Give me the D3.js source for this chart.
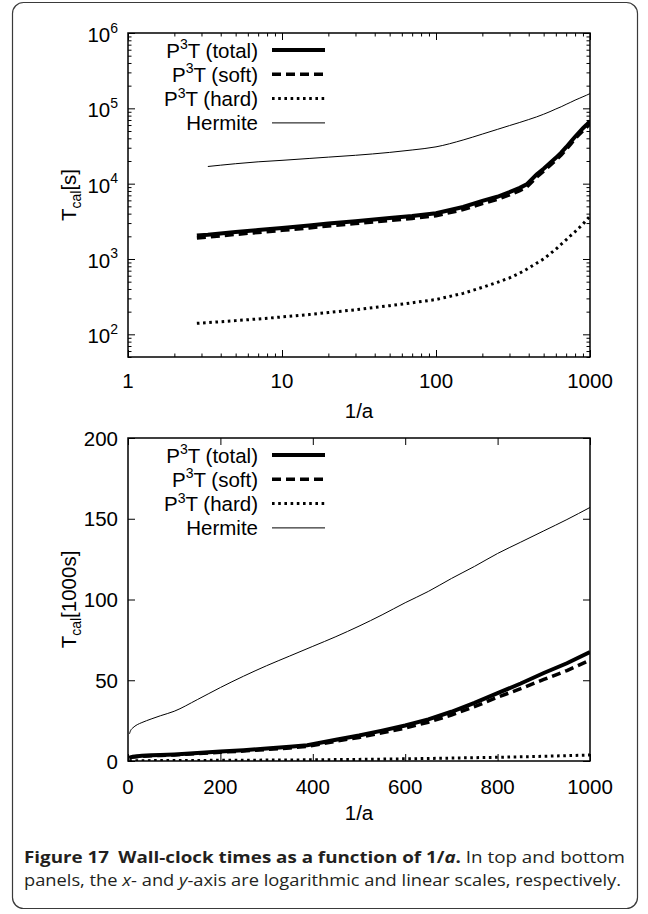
<!DOCTYPE html>
<html>
<head>
<meta charset="utf-8">
<script src="https://cdn.jsdelivr.net/npm/d3@7"></script>
<style>
  body { margin: 0; background: #fff; }
  svg { display: block; }
</style>
</head>
<body>
<script>
// Values: 1/a against wall-clock time in seconds
var invA = [2.8, 3.3, 5, 7, 10, 15, 20, 30, 50, 70, 100, 150, 200, 250, 300, 350, 388,
            450, 500, 550, 600, 650, 700, 750, 800, 850, 900, 950, 1000];
var totalTime = [2050, 2100, 2280, 2420, 2580, 2780, 2960, 3180, 3500, 3720, 4050, 4900, 5900,
                 6700, 7700, 8800, 9800, 13200, 15800, 18800, 22000, 25800, 30500, 36000,
                 42000, 48000, 54500, 60500, 67500];
var softTime = [1900, 1950, 2120, 2250, 2400, 2580, 2750, 2960, 3250, 3460, 3750, 4520, 5450,
                6180, 7100, 8100, 9000, 12200, 14600, 17400, 20400, 24000, 28500, 33600,
                39500, 44800, 50500, 56000, 62500];
var hardTime = [140, 143, 152, 160, 170, 183, 195, 212, 240, 262, 290, 350, 420, 490, 560, 650,
                730, 880, 1000, 1170, 1350, 1570, 1800, 2050, 2300, 2600, 2900, 3300, 3700];

var hermiteInvA = [3.3, 4, 5, 7, 10, 15, 20, 30, 50, 70, 100, 150, 200, 250, 300, 350, 400,
                   450, 500, 550, 600, 650, 700, 750, 800, 850, 900, 950, 1000];
var hermiteTime = [16900, 17600, 18400, 19500, 20400, 21600, 22500, 23800, 26000, 28000, 30800,
                   38000, 45500, 52500, 59000, 65000, 71000, 77000, 83500, 90500, 98000, 105000,
                   113000, 120500, 128500, 135500, 142500, 149500, 157000];

var legendLabels = ["P^3T (total)", "P^3T (soft)", "P^3T (hard)", "Hermite"];

// tick values
var logXTicks = [1, 10, 100, 1000];
var logYTicks = [1e2, 1e3, 1e4, 1e5, 1e6];
var linXTicks = [0, 200, 400, 600, 800, 1000];
var linYTicks = [0, 50, 100, 150, 200];

// svg area
var svgWidth = 648;
var svgHeight = 914;
var plotLeft = 128;
var plotWidth = 462;
var fontFam = "'Liberation Sans', Arial, Helvetica, sans-serif";
var fontSize = 20.5;
var supSize = 14;

var svg = d3.select("body")
  .append("svg")
  .attr("width", svgWidth)
  .attr("height", svgHeight);

// the card the figure sits in
svg.append("rect")
  .attr("x", 12.5).attr("y", 2.5)
  .attr("width", 625).attr("height", 906)
  .attr("rx", 11).attr("ry", 11)
  .attr("fill", "none")
  .attr("stroke", "#3a3a3a")
  .attr("stroke-width", 1.2);

// line style of each series (same order as legendLabels)
var styles = [
  { width: 4, dash: null, curve: d3.curveLinear },
  { width: 3.5, dash: "9,5", curve: d3.curveLinear },
  { width: 3, dash: "2.6,3.6", curve: d3.curveLinear },
  { width: 1, dash: null, curve: d3.curveMonotoneX }
];

var series = [
  { x: invA, y: totalTime },
  { x: invA, y: softTime },
  { x: invA, y: hardTime },
  { x: hermiteInvA, y: hermiteTime }
];

// draw ticks pointing into the plot on all four sides
function inwardTicks(g, xScale, yScale, xVals, yVals, len, h) {
  var axes = [
    g.append("g").attr("transform", `translate(0,${h})`)
      .call(d3.axisBottom(xScale).tickValues(xVals).tickSize(-len).tickFormat("")),
    g.append("g")
      .call(d3.axisTop(xScale).tickValues(xVals).tickSize(-len).tickFormat("")),
    g.append("g")
      .call(d3.axisLeft(yScale).tickValues(yVals).tickSize(-len).tickFormat("")),
    g.append("g").attr("transform", `translate(${plotWidth},0)`)
      .call(d3.axisRight(yScale).tickValues(yVals).tickSize(-len).tickFormat(""))
  ];
  axes.forEach(function(a) {
    a.select(".domain").remove();
    a.selectAll("line").attr("stroke", "#000").attr("stroke-width", 1);
  });
}

function drawPanel(top, h, xScale, yScale, yDiv, clipId) {
  var g = svg.append("g").attr("transform", `translate(${plotLeft},${top})`);

  g.append("clipPath").attr("id", clipId)
    .append("rect").attr("width", plotWidth).attr("height", h);

  var curves = g.append("g").attr("clip-path", `url(#${clipId})`);
  // draw hermite first, then hard, soft, total on top
  [3, 2, 1, 0].forEach(function(i) {
    var line = d3.line()
      .curve(styles[i].curve)
      .x(d => xScale(d[0]))
      .y(d => yScale(d[1] / yDiv));
    var pts = series[i].x.map((v, j) => [v, series[i].y[j]]);
    curves.append("path")
      .datum(pts)
      .attr("d", line)
      .attr("fill", "none")
      .attr("stroke", "#000")
      .attr("stroke-width", styles[i].width)
      .attr("stroke-dasharray", styles[i].dash);
  });

  // legend, top left
  legendLabels.forEach(function(lab, i) {
    var cy = 17 + i * 24.3;
    var t = g.append("text")
      .attr("x", 130).attr("y", cy + 7.5)
      .attr("text-anchor", "end")
      .attr("font-family", fontFam)
      .attr("font-size", fontSize);
    var parts = lab.split("^");
    if (parts.length > 1) {
      t.append("tspan").text(parts[0]);
      t.append("tspan").attr("font-size", supSize).attr("dy", -8.5).text(parts[1][0]);
      t.append("tspan").attr("dy", 8.5).text(parts[1].slice(1));
    } else {
      t.text(lab);
    }
    g.append("line")
      .attr("x1", 144).attr("x2", 197)
      .attr("y1", cy).attr("y2", cy)
      .attr("stroke", "#000")
      .attr("stroke-width", styles[i].width)
      .attr("stroke-dasharray", styles[i].dash);
  });

  return g;
}

// ---------- top panel: log-log ----------
var topTop = 33, topH = 324;
var xLog = d3.scaleLog().domain([1, 1000]).range([0, plotWidth]);
var yLog = d3.scaleLog().domain([50, 1e6]).range([topH, 0]);

var gTop = drawPanel(topTop, topH, xLog, yLog, 1, "clipTop");

// minor ticks 2..9 in every decade
var xMinor = [], yMinor = [];
[1, 10, 100].forEach(function(d) {
  for (var k = 2; k <= 9; k++) xMinor.push(d * k);
});
[10, 100, 1000, 10000, 100000].forEach(function(d) {
  for (var k = 2; k <= 9; k++) if (d * k >= 50) yMinor.push(d * k);
});
inwardTicks(gTop, xLog, yLog, xMinor, yMinor, 3.5, topH);
inwardTicks(gTop, xLog, yLog, logXTicks, logYTicks, 7, topH);

gTop.append("rect")
  .attr("width", plotWidth).attr("height", topH)
  .attr("fill", "none").attr("stroke", "#000").attr("stroke-width", 1.5);

// tick labels
gTop.selectAll(".xlab")
  .data(logXTicks)
  .enter().append("text")
  .attr("x", d => xLog(d))
  .attr("y", topH + 31)
  .attr("text-anchor", "middle")
  .attr("font-family", fontFam)
  .attr("font-size", fontSize)
  .text(d => d);

logYTicks.forEach(function(d) {
  var t = gTop.append("text")
    .attr("x", -10)
    .attr("y", yLog(d) + 9)
    .attr("text-anchor", "end")
    .attr("font-family", fontFam)
    .attr("font-size", fontSize);
  t.append("tspan").text("10");
  t.append("tspan").attr("font-size", supSize).attr("dy", -9.5).text(Math.round(Math.log10(d)));
});

gTop.append("text")
  .attr("x", plotWidth / 2).attr("y", topH + 61)
  .attr("text-anchor", "middle")
  .attr("font-family", fontFam).attr("font-size", fontSize)
  .text("1/a");

function yTitle(g, cy, unit) {
  var t = g.append("text")
    .attr("transform", `translate(-52,${cy}) rotate(-90)`)
    .attr("text-anchor", "middle")
    .attr("font-family", fontFam).attr("font-size", fontSize);
  t.append("tspan").text("T");
  t.append("tspan").attr("font-size", supSize).attr("dy", 5).text("cal");
  t.append("tspan").attr("dy", -5).text(unit);
}
yTitle(gTop, topH / 2, "[s]");

// ---------- bottom panel: linear ----------
var botTop = 438, botH = 323;
var xLin = d3.scaleLinear().domain([0, 1000]).range([0, plotWidth]);
var yLin = d3.scaleLinear().domain([0, 200]).range([botH, 0]);

var gBot = drawPanel(botTop, botH, xLin, yLin, 1000, "clipBot");
inwardTicks(gBot, xLin, yLin, linXTicks, linYTicks, 7, botH);

gBot.append("rect")
  .attr("width", plotWidth).attr("height", botH)
  .attr("fill", "none").attr("stroke", "#000").attr("stroke-width", 1.5);

gBot.selectAll(".xlab")
  .data(linXTicks)
  .enter().append("text")
  .attr("x", d => xLin(d))
  .attr("y", botH + 33)
  .attr("text-anchor", "middle")
  .attr("font-family", fontFam)
  .attr("font-size", fontSize)
  .text(d => d);

gBot.selectAll(".ylab")
  .data(linYTicks)
  .enter().append("text")
  .attr("x", -10)
  .attr("y", d => yLin(d) + 7.5)
  .attr("text-anchor", "end")
  .attr("font-family", fontFam)
  .attr("font-size", fontSize)
  .text(d => d);

gBot.append("text")
  .attr("x", plotWidth / 2).attr("y", botH + 59)
  .attr("text-anchor", "middle")
  .attr("font-family", fontFam).attr("font-size", fontSize)
  .text("1/a");

yTitle(gBot, botH / 2, "[1000s]");

// ---------- caption ----------
var capFont = "'Open Sans', 'Noto Sans', sans-serif";
var cap1 = svg.append("text")
  .attr("x", 24).attr("y", 863)
  .attr("font-family", capFont).attr("font-size", 16.5)
  .attr("fill", "#231f20")
  .attr("textLength", 601).attr("lengthAdjust", "spacingAndGlyphs");
cap1.append("tspan").attr("font-weight", "bold").text("Figure 17\u2002Wall-clock times as a function of 1/");
cap1.append("tspan").attr("font-weight", "bold").attr("font-style", "italic").text("a");
cap1.append("tspan").attr("font-weight", "bold").text(".");
cap1.append("tspan").text(" In top and bottom");

var cap2 = svg.append("text")
  .attr("x", 24).attr("y", 886)
  .attr("font-family", capFont).attr("font-size", 16.5)
  .attr("fill", "#231f20")
  .attr("textLength", 597).attr("lengthAdjust", "spacingAndGlyphs");
cap2.append("tspan").text("panels, the ");
cap2.append("tspan").attr("font-style", "italic").text("x");
cap2.append("tspan").text("- and ");
cap2.append("tspan").attr("font-style", "italic").text("y");
cap2.append("tspan").text("-axis are logarithmic and linear scales, respectively.");
</script>
</body>
</html>
